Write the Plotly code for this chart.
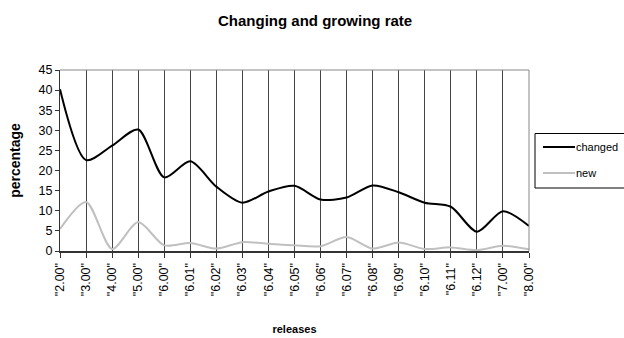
import plotly.graph_objects as go

releases = ['"2.00"', '"3.00"', '"4.00"', '"5.00"', '"6.00"', '"6.01"', '"6.02"',
            '"6.03"', '"6.04"', '"6.05"', '"6.06"', '"6.07"', '"6.08"', '"6.09"',
            '"6.10"', '"6.11"', '"6.12"', '"7.00"', '"8.00"']
changed = [40.2, 22.6, 26.2, 30.2, 18.3, 22.3, 16.0, 12.0, 14.8, 16.2, 12.8,
           13.3, 16.3, 14.6, 12.0, 11.0, 4.8, 9.9, 6.2]
new = [5.5, 12.2, 0.5, 7.2, 1.4, 2.0, 0.6, 2.2, 1.8, 1.4, 1.2,
       3.5, 0.6, 2.1, 0.5, 0.9, 0.2, 1.3, 0.4]

series = [("changed", changed, "black"), ("new", new, "#c0c0c0")]

FONT = "Liberation Sans, Arial, sans-serif"
W, H = 624, 338
L, R, T, B = 60, 95, 70, 87
PW, PH = W - L - R, H - T - B


def px_x(px):
    return (px - L) / PW


def px_y(py):
    return (H - B - py) / PH


fig = go.Figure()
for name, vals, color in series:
    fig.add_trace(go.Scatter(x=releases, y=vals, name=name, mode="lines",
                             line=dict(color=color, width=2, shape="spline", smoothing=0.8)))

fig.update_layout(
    width=W, height=H,
    margin=dict(l=L, r=R, t=T, b=B, autoexpand=False),
    paper_bgcolor="white", plot_bgcolor="white",
    font=dict(family=FONT, color="black", size=12),
    title=dict(text="<b>Changing and growing rate</b>", x=0.505, xanchor="center",
               y=0.938, yanchor="middle", font=dict(size=15)),
    showlegend=False,
    xaxis=dict(
        range=[0, 18], showgrid=True, gridcolor="#444", gridwidth=1,
        showline=True, linecolor="#333", linewidth=2, mirror=False,
        ticks="outside", ticklen=5, tickcolor="#333",
        tickangle=-90, tickfont=dict(size=12.5), automargin=False,
        title=dict(text="<b>releases</b>", font=dict(size=11), standoff=30),
        zeroline=False,
    ),
    yaxis=dict(
        range=[0, 45], dtick=5, showgrid=False,
        showline=True, linecolor="#333", linewidth=1,
        ticks="outside", ticklen=4, tickcolor="#333",
        tickfont=dict(size=12.5), automargin=False,
        title=dict(text="<b>percentage</b>", font=dict(size=14), standoff=14),
        zeroline=False,
    ),
)

# grey frame on top and right of plotting area
fig.add_shape(type="line", xref="paper", yref="paper", x0=0, x1=1, y0=1, y1=1,
              line=dict(color="#888", width=1))
fig.add_shape(type="line", xref="paper", yref="paper", x0=1, x1=1, y0=0, y1=1,
              line=dict(color="#888", width=1))

# legend box
fig.add_shape(type="rect", xref="paper", yref="paper",
              x0=px_x(535), x1=px_x(640), y0=px_y(188), y1=px_y(133.5),
              line=dict(color="black", width=1), fillcolor="white", layer="above")
for i, (name, vals, color) in enumerate(series):
    yy = px_y(147 + 26 * i)
    fig.add_shape(type="line", xref="paper", yref="paper",
                  x0=px_x(543), x1=px_x(575), y0=yy, y1=yy,
                  line=dict(color=color, width=2), layer="above")
    fig.add_annotation(xref="paper", yref="paper", x=px_x(575), y=yy,
                       text=name, showarrow=False, xanchor="left", yanchor="middle",
                       font=dict(size=11, family=FONT), xshift=-1)

fig.write_html("out.html")
